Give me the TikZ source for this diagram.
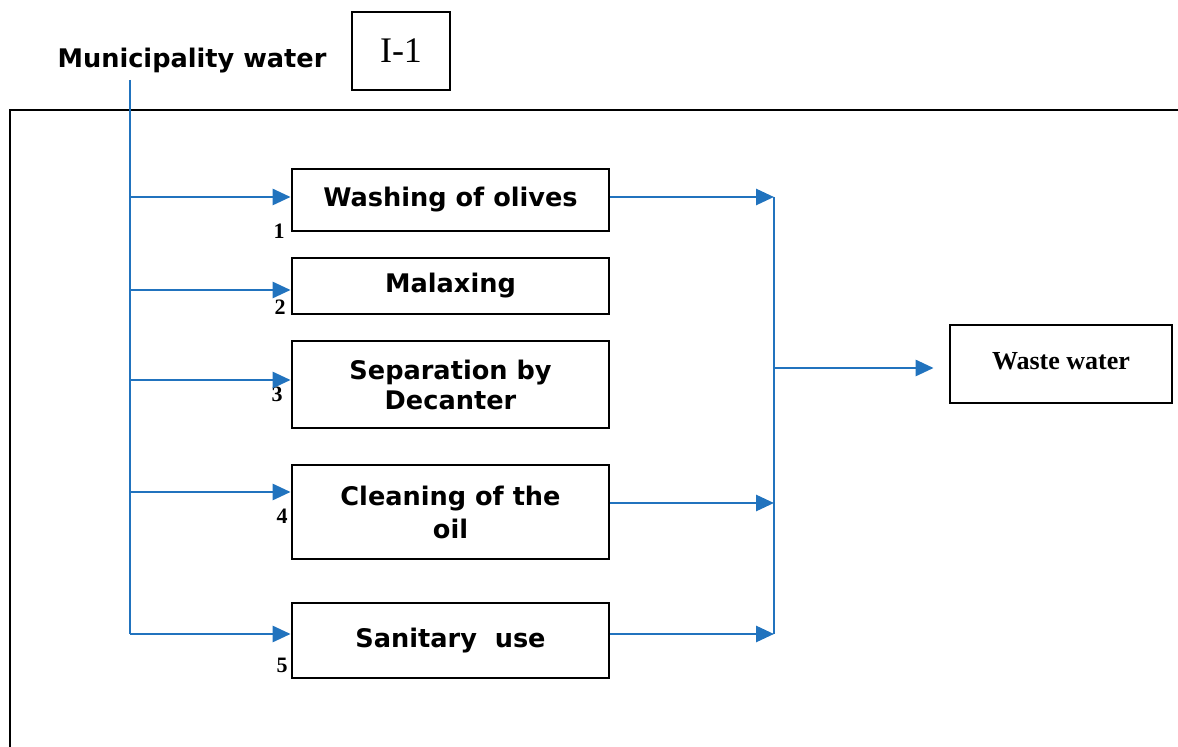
\documentclass[tikz,border=0pt]{standalone}
\usepackage{fontspec}
\setmainfont{Liberation Serif}
\newfontfamily\vf{DejaVu Sans}
\usetikzlibrary{arrows.meta,calc}
\definecolor{flowblue}{RGB}{33,115,190}
\tikzset{
  pbox/.style={draw=black, line width=1.4pt, inner sep=0pt, minimum width=158.5pt,
    font=\vf\bfseries\fontsize{12.8}{15}\selectfont, align=center},
  flow/.style={draw=flowblue, line width=1.4pt},
  flowarr/.style={flow, -{Triangle[length=9pt,width=8pt]}},
  numlbl/.style={font=\bfseries\fontsize{11}{13}\selectfont, inner sep=0pt},
}
\begin{document}
\begin{tikzpicture}[x=0.5pt,y=-0.5pt]
\useasboundingbox (0,0) rectangle (1178,747);
% frame
\draw[line width=1.3pt] (10,747) -- (10,110) -- (1178,110);
% header
\node[font=\vf\bfseries\fontsize{12.8}{14}\selectfont, inner sep=0pt] (mw) at (192,61) {Municipality water};
\node[draw, line width=0.7pt, minimum width=49pt, minimum height=39pt, inner sep=0pt,
  font=\fontsize{18}{20}\selectfont] (i1) at (401,51) {I-1};
% process boxes
\node[pbox, minimum height=31pt] (b1) at (450.5,200) {\raisebox{-1pt}{Washing of olives}};
\node[pbox, minimum height=28pt] (b2) at (450.5,286) {Malaxing};
\node[pbox, minimum height=43.5pt] (b3) at (450.5,384.5) {Separation by\\Decanter};
\node[pbox, minimum height=47pt] (b4) at (450.5,512) {Cleaning of the\\[1.5pt]oil};
\node[pbox, minimum height=37.5pt] (b5) at (450.5,640.5) {\raisebox{3pt}{Sanitary\ \ use}};
\node[pbox, line width=1.4pt, minimum width=111pt, minimum height=39pt,
  font=\bfseries\fontsize{13}{15}\selectfont] (ww) at (1061,364) {\raisebox{3.5pt}{Waste water}};
% numbers
\node[numlbl] (n1) at (279,231) {1};
\node[numlbl] (n2) at (280,307) {2};
\node[numlbl] (n3) at (277,394) {3};
\node[numlbl] (n4) at (282,516) {4};
\node[numlbl] (n5) at (282,665) {5};
% left trunk
\coordinate (src) at (130,80);
\draw[flow] (src) -- (src |- 0,634);
\draw[flowarr] ([yshift=1.5pt]b1.west -| src) -- ([yshift=1.5pt]b1.west);
\draw[flowarr] ([yshift=-2pt]b2.west -| src) -- ([yshift=-2pt]b2.west);
\draw[flowarr] ([yshift=2.25pt]b3.west -| src) -- ([yshift=2.25pt]b3.west);
\draw[flowarr] ([yshift=10pt]b4.west -| src) -- ([yshift=10pt]b4.west);
\draw[flowarr] ([yshift=3.25pt]b5.west -| src) -- ([yshift=3.25pt]b5.west);
% collector
\coordinate (ctop) at (774,197);
\coordinate (cbot) at (774,634);
\coordinate (cmid) at (774,368);
\draw[flow] (ctop) -- (cbot);
\draw[flowarr] ([yshift=1.5pt]b1.east) -- ([yshift=1.5pt]b1.east -| ctop);
\draw[flowarr] ([yshift=4.5pt]b4.east) -- ([yshift=4.5pt]b4.east -| ctop);
\draw[flowarr] ([yshift=3.25pt]b5.east) -- ([yshift=3.25pt]b5.east -| ctop);
\draw[flowarr, shorten >=7.5pt] (cmid) -- (cmid -| ww.west);
\end{tikzpicture}
\end{document}
